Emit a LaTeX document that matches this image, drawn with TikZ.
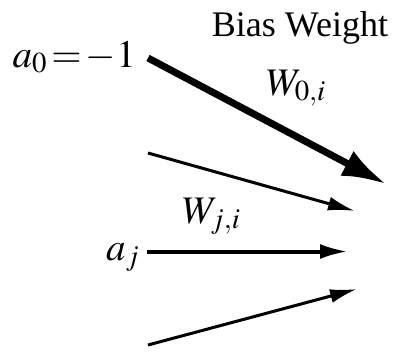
\documentclass[tikz,border=0pt]{standalone}
\usepackage{mathptmx}
\usepackage{fontspec}
\setmainfont{Liberation Serif}
\usepackage{tikz}
\usetikzlibrary{arrows.meta}
\tikzset{
  biasarrow/.style={-{Latex[length=44pt,width=28pt]}, draw=black, line width=7pt},
  weightarrow/.style={-{Latex[length=27pt,width=14pt]}, draw=black, line width=3pt},
  mainarrow/.style={-{Latex[length=28pt,width=15pt]}, draw=black, line width=4pt},
  inputlabel/.style={inner sep=0pt, font=\fontsize{39}{44}\selectfont},
  weightlabel/.style={inner sep=0pt, font=\fontsize{39}{44}\selectfont},
  captionlabel/.style={inner sep=0pt, font=\fontsize{36}{42}\selectfont},
}

\begin{document}
\begin{tikzpicture}[x=1pt, y=-1pt]
  \useasboundingbox (0,0) rectangle (393,351);

  % Labels
  \node[captionlabel, anchor=base] (biastext) at (300,36) {Bias Weight};
  \node[inputlabel, anchor=base east] (a0) at (136,67) {$a_0\!=\!-1$};
  \node[weightlabel, anchor=base west] (w0) at (266,95) {$W_{0,i}$};
  \node[weightlabel, anchor=base west] (wj) at (182,223) {$W_{j,i}$};
  \node[inputlabel, anchor=base west] (aj) at (106,260) {$a_j$};

  % Arrow ends
  \coordinate (a0out) at (148,58);
  \coordinate (in1) at (148,153);
  \coordinate (ajout) at (147,251.5);
  \coordinate (in3) at (148,345);
  \coordinate (unit0) at (386,184);
  \coordinate (unit1) at (355,211);
  \coordinate (unit2) at (348,251.5);
  \coordinate (unit3) at (357,289);

  % Inputs
  \draw[biasarrow] (a0out) -- (unit0);
  \draw[weightarrow] (in1) -- (unit1);
  \draw[mainarrow] (ajout) -- (unit2);
  \draw[weightarrow] (in3) -- (unit3);

\end{tikzpicture}
\end{document}
